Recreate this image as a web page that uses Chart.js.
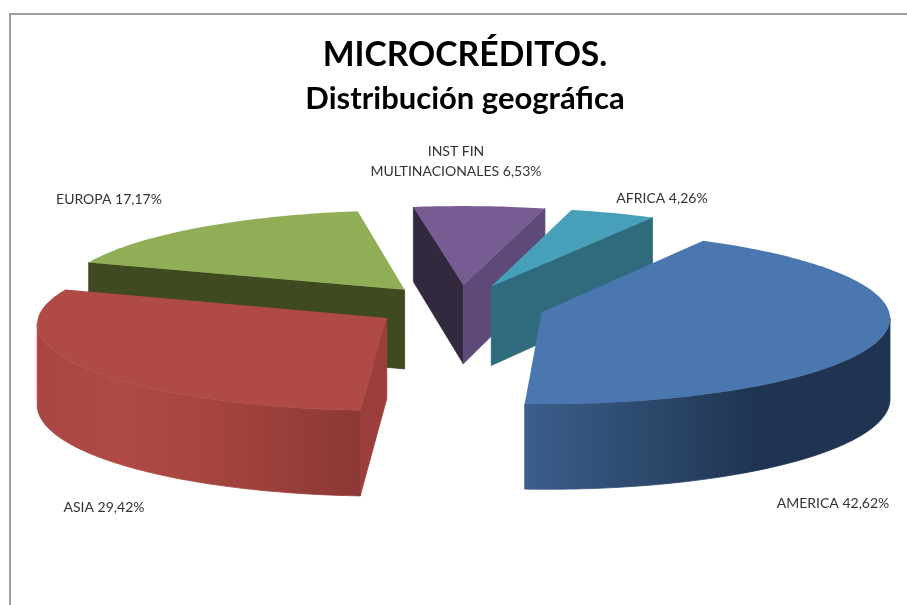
<!DOCTYPE html>
<html>
<head>
<meta charset="utf-8">
<style>html,body{margin:0;padding:0;background:#fff;overflow:hidden}canvas{display:block}</style>
<script src="https://cdn.jsdelivr.net/npm/chart.js@4/dist/chart.umd.min.js"></script>
</head>
<body>
<canvas id="c" width="907" height="605"></canvas>
<script>
const categories = ["AMERICA", "ASIA", "EUROPA", "INST FIN\nMULTINACIONALES", "AFRICA"];
const values = [42.62, 29.42, 17.17, 6.53, 4.26];
const topColors = ["#4A77B0", "#B04A47", "#8FAE56", "#775B93", "#47A0B9"];
const startFaceColors = ["#1F3450", "#9C3F3C", "#404A20", "#32293F", "#2F6B7D"];
const endFaceColors = ["#1F3450", "#9C3F3C", "#404A20", "#5E4A78", "#2F6B7D"];
const wallStops = [
  [[0, "#3C5E8C"], [0.32, "#2D4A6E"], [0.64, "#1F3450"], [1, "#1F3450"]],
  [[0, "#A84643"], [0.25, "#AF4A46"], [0.55, "#A5443F"], [1, "#8C3836"]],
  [[0, "#404A20"], [1, "#404A20"]],
  [[0, "#4A3A60"], [1, "#4A3A60"]],
  [[0, "#2F6B7D"], [1, "#2F6B7D"]]
];
const labelSpots = [[833, 503], [104, 507], [109, 199], [456, 161], [662, 198]];

const pie3d = {
  id: "pie3d",
  beforeDraw(chart, args, o) {
    const ctx = chart.ctx;
    ctx.save();
    ctx.strokeStyle = "#9c9c9c";
    ctx.lineWidth = 2;
    ctx.beginPath();
    ctx.moveTo(10, 605);
    ctx.lineTo(10, 14);
    ctx.lineTo(907, 14);
    ctx.stroke();
    ctx.restore();
  },
  beforeDatasetsDraw(chart, args, o) {
    const ctx = chart.ctx;
    const arcs = chart.getDatasetMeta(0).data;
    const project = (x, y, z, cx, cy) => {
      const p = o.viewDistance / (o.viewDistance - y);
      return [cx + x * p, cy + (o.tilt * y + z) * p];
    };
    const items = arcs.map((el, i) => {
      const mid = (el.startAngle + el.endAngle) / 2;
      const off = el.options.offset;
      return {el, i, mid, ox: Math.cos(mid) * off, oy: Math.sin(mid) * off};
    }).sort((a, b) => a.oy - b.oy);

    for (const it of items) {
      const {el, i, ox, oy} = it;
      const cx = el.x + o.shiftX, cy = o.centerY;
      const R = el.outerRadius;
      const n = Math.max(2, Math.ceil((el.endAngle - el.startAngle) * 180 / Math.PI));
      const topRim = [], botRim = [];
      for (let k = 0; k <= n; k++) {
        const a = el.startAngle + (el.endAngle - el.startAngle) * k / n;
        const x = ox + R * Math.cos(a), y = oy + R * Math.sin(a);
        topRim.push(project(x, y, 0, cx, cy));
        botRim.push(project(x, y, o.depth, cx, cy));
      }
      const apexT = project(ox, oy, 0, cx, cy);
      const apexB = project(ox, oy, o.depth, cx, cy);
      const quadArea = (a, b, c, d) => {
        const pts = [a, b, c, d];
        let s = 0;
        for (let j = 0; j < 4; j++) {
          const u = pts[j], v = pts[(j + 1) % 4];
          s += u[0] * v[1] - v[0] * u[1];
        }
        return s;
      };
      const fillPoly = (pts, style, bleed) => {
        ctx.beginPath();
        pts.forEach((q, j) => j ? ctx.lineTo(q[0], q[1]) : ctx.moveTo(q[0], q[1]));
        ctx.closePath();
        ctx.fillStyle = style;
        ctx.fill();
        if (bleed) {
          ctx.strokeStyle = style;
          ctx.lineWidth = bleed;
          ctx.lineJoin = "round";
          ctx.stroke();
        }
      };
      // radial cut faces
      if (quadArea(apexT, topRim[0], botRim[0], apexB) < 0)
        fillPoly([apexT, topRim[0], botRim[0], apexB], startFaceColors[i], 0.8);
      if (quadArea(topRim[n], apexT, apexB, botRim[n]) < 0)
        fillPoly([topRim[n], apexT, apexB, botRim[n]], endFaceColors[i], 0.8);
      // outer wall: continuous runs of front-facing segments
      let run = null;
      const runs = [];
      for (let k = 0; k < n; k++) {
        const vis = quadArea(topRim[k], topRim[k + 1], botRim[k + 1], botRim[k]) < 0;
        if (vis) {
          if (!run) { run = [k, k + 1]; runs.push(run); } else run[1] = k + 1;
        } else run = null;
      }
      for (const [s, e] of runs) {
        const t = topRim.slice(s, e + 1), b = botRim.slice(s, e + 1).reverse();
        const poly = t.concat(b);
        const xs = poly.map(q => q[0]);
        const g = ctx.createLinearGradient(Math.min(...xs), 0, Math.max(...xs), 0);
        wallStops[i].forEach(st => g.addColorStop(st[0], st[1]));
        fillPoly(poly, g, 0.8);
      }
      // top surface
      fillPoly([apexT].concat(topRim), el.options.backgroundColor);
    }
    return false;
  },
  afterDraw(chart, args, o) {
    const ctx = chart.ctx;
    ctx.save();
    ctx.font = o.labelFont;
    ctx.fillStyle = o.labelColor;
    ctx.textAlign = "center";
    ctx.textBaseline = "middle";
    categories.forEach((name, i) => {
      const lines = (name + " " + values[i].toFixed(2).replace(".", ",") + "%").split("\n");
      const [x, y] = labelSpots[i];
      lines.forEach((line, j) => {
        ctx.fillText(line, x, y + (j - (lines.length - 1) / 2) * o.labelLeading);
      });
    });
    ctx.restore();
  }
};

new Chart(document.getElementById("c"), {
  type: "pie",
  data: {
    labels: categories,
    datasets: [{
      data: values,
      backgroundColor: topColors,
      borderWidth: 0,
      offset: 86,
      radius: 346
    }]
  },
  options: {
    responsive: false,
    animation: false,
    rotation: 30,
    layout: {padding: {left: 23, right: 0, top: 0, bottom: 105}},
    plugins: {
      legend: {display: false},
      tooltip: {enabled: false},
      title: {
        display: true,
        text: "MICROCRÉDITOS.",
        color: "#000",
        font: {family: "Lato", size: 33.7, weight: "bold"},
        padding: {top: 35, bottom: 5}
      },
      subtitle: {
        display: true,
        text: "Distribución geográfica",
        color: "#000",
        font: {family: "Lato", size: 31, weight: "bold"},
        padding: {top: 0, bottom: 6}
      },
      pie3d: {
        tilt: 0.248,
        depth: 80,
        viewDistance: 6000,
        shiftX: -6,
        centerY: 306,
        labelFont: "14px Lato",
        labelColor: "#333333",
        labelLeading: 20
      }
    }
  },
  plugins: [pie3d]
});
</script>
</body>
</html>
